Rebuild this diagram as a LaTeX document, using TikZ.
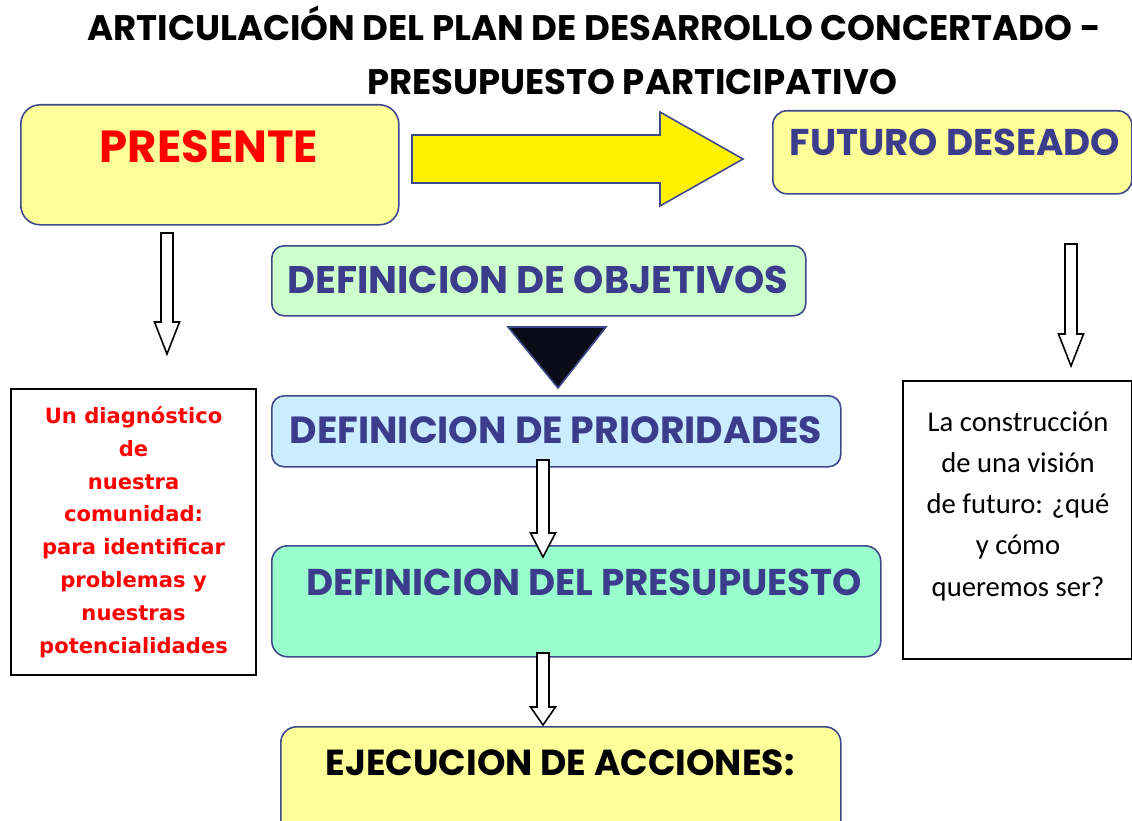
\documentclass[tikz,border=0pt]{standalone}
\usepackage{fontspec}
\usetikzlibrary{calc}
\newfontfamily\comicfont{Poppins}
\newfontfamily\verdfont{DejaVu Sans}
\newfontfamily\califont{Carlito}
\definecolor{boxline}{RGB}{64,72,140}
\definecolor{boxtext}{RGB}{60,60,140}
\definecolor{paleyellow}{RGB}{255,255,153}
\definecolor{palegreen}{RGB}{204,255,204}
\definecolor{paleblue}{RGB}{204,236,255}
\definecolor{mint}{RGB}{153,255,204}
\definecolor{nearblack}{RGB}{12,12,24}
\newlength\pxu
\setlength\pxu{0.02cm}
\newcommand\blockdown[3]{%
  \draw[hollow] ($(#1)+(-6,0)$) -- ($(#2)+(-6,-#3)$) -- ($(#2)+(-12.5,-#3)$) -- (#2)
    -- ($(#2)+(12.5,-#3)$) -- ($(#2)+(6,-#3)$) -- ($(#1)+(6,0)$) -- cycle;}
\tikzset{
  rbox/.style={draw=boxline, line width=0.9pt, rounded corners=#1, inner sep=0pt, anchor=north west},
  comic/.style={anchor=base, inner sep=0pt, font=\comicfont\bfseries\fontsize{#1}{#1}\selectfont},
  hollow/.style={draw=black, fill=white, line width=0.9pt},
}

\begin{document}
\begin{tikzpicture}[x=0.02cm, y=-0.02cm]
\useasboundingbox (0,0) rectangle (1132,821);

\node[comic=20.2] (title1) at (594,41) {ARTICULACIÓN DEL PLAN DE DESARROLLO CONCERTADO -};
\node[comic=20.2] (title2) at (632,94) {PRESUPUESTO PARTICIPATIVO};

\node[rbox=11pt, fill=paleyellow, minimum width=378\pxu, minimum height=120\pxu] (pres) at (20,104) {};
\node[comic=25.6, text=red] (prestxt) at (209,162) {PRESENTE};

\node[rbox=8pt, fill=paleyellow, minimum width=359\pxu, minimum height=83\pxu] (fut) at (772,110) {};
\node[comic=21.2, text=boxtext] (futtxt) at (955,155) {FUTURO DESEADO};

\draw[draw=boxline, fill=yellow, line width=0.9pt] (412,135) -- (660,135) -- (660,112) -- (743,159)
  -- (660,206) -- (660,183) -- (412,183) -- cycle;

\node[rbox=7pt, fill=palegreen, minimum width=534\pxu, minimum height=70\pxu] (obj) at (271,245) {};
\node[comic=21.9, text=boxtext] (objtxt) at (538,293) {DEFINICION DE OBJETIVOS};

\draw[draw=boxline, fill=nearblack, line width=0.9pt] (508,327) -- (606,327) -- (558,388) -- cycle;

\node[rbox=7pt, fill=paleblue, minimum width=569\pxu, minimum height=71\pxu] (prio) at (271,395) {};
\node[comic=21.5, text=boxtext] (priotxt) at (556,443) {DEFINICION DE PRIORIDADES};

\node[rbox=9pt, fill=mint, minimum width=609\pxu, minimum height=111\pxu] (presu) at (271,545) {};
\node[comic=21.2, text=boxtext] (presutxt) at (584,595) {DEFINICION DEL PRESUPUESTO};

\node[rbox=9pt, fill=paleyellow, minimum width=560\pxu, minimum height=130\pxu] (ejec) at (280,726) {};
\node[comic=20.6] (ejectxt) at (560,775) {EJECUCION DE ACCIONES:};

\node[draw, line width=1.2pt, anchor=north west, minimum width=245\pxu, minimum height=286\pxu,
  align=center, text=red, font=\verdfont\bfseries\fontsize{12}{18.7}\selectfont] (diag) at (10,388)
  {Un diagnóstico\\de\\nuestra\\comunidad:\\para identificar\\problemas y\\nuestras\\potencialidades};

\node[draw, line width=1.2pt, anchor=north west, minimum width=229\pxu, minimum height=278\pxu] (vis) at (902,380) {};
\node[anchor=north, inner sep=0pt, align=center, font=\califont\fontsize{16.3}{23.5}\selectfont] (vistxt) at (1018,411)
  {La construcción\\de una visión\\de futuro: ¿qué\\y cómo\\queremos ser?};

\coordinate (a1s) at (167,233);
\coordinate (a1e) at (167,354);
\coordinate (a2s) at (1071,244);
\coordinate (a2e) at (1071,366);
\coordinate (a3s) at (543,460);
\coordinate (a3e) at (543,557);
\coordinate (a4s) at (543,653);
\coordinate (a4e) at (543,725);
\blockdown{a1s}{a1e}{32}
\blockdown{a2s}{a2e}{32}
\blockdown{a3s}{a3e}{24}
\blockdown{a4s}{a4e}{18}
\end{tikzpicture}
\end{document}
